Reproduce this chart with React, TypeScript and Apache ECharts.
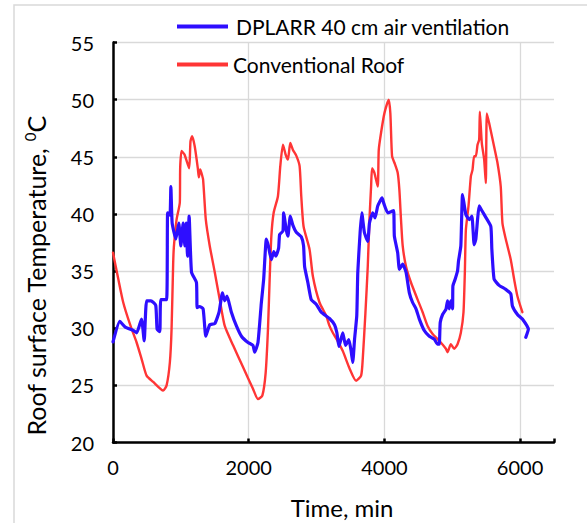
import React, { useEffect, useRef } from "react";
import * as echarts from "echarts";

const seriesNames = ["DPLARR 40 cm air ventilation", "Conventional Roof"];
const xTicks = [0, 2000, 4000, 6000];

const blueTime = [0, 100, 180, 300, 350, 420, 460, 495, 560, 630, 650, 690, 705, 790, 805, 840, 853, 872, 926, 970, 1000, 1034, 1060, 1080, 1098, 1122, 1157, 1230, 1240, 1275, 1328, 1368, 1426, 1500, 1563, 1613, 1647, 1681, 1745, 1819, 1893, 1990, 2063, 2088, 2137, 2186, 2221, 2260, 2290, 2334, 2370, 2400, 2441, 2456, 2505, 2515, 2554, 2578, 2613, 2652, 2701, 2775, 2809, 2824, 2872, 2922, 2995, 3069, 3191, 3265, 3300, 3330, 3387, 3427, 3476, 3510, 3534, 3560, 3593, 3608, 3642, 3667, 3706, 3755, 3780, 3828, 3863, 3902, 3966, 3990, 4049, 4098, 4137, 4147, 4196, 4221, 4270, 4319, 4368, 4416, 4466, 4515, 4588, 4662, 4735, 4784, 4809, 4823, 4858, 4907, 4931, 4956, 4980, 5005, 5010, 5044, 5078, 5093, 5127, 5152, 5201, 5250, 5290, 5323, 5348, 5373, 5397, 5436, 5495, 5569, 5584, 5617, 5691, 5789, 5863, 5887, 5961, 6034, 6122, 6084];
const blueTemp = [28.8, 30.6, 30.1, 29.8, 29.6, 30.8, 28.9, 32.4, 32.4, 32.0, 29.9, 29.7, 32.5, 32.5, 40.1, 39.9, 42.4, 39.2, 37.8, 39.2, 37.2, 39.2, 37.2, 39.2, 36.3, 39.8, 34.9, 34.0, 31.8, 31.9, 31.7, 29.3, 30.3, 30.4, 31.4, 33.1, 32.4, 32.8, 31.4, 30.2, 29.3, 28.75, 28.5, 27.9, 28.75, 32.2, 34.3, 37.8, 37.2, 36.0, 36.7, 36.3, 37.0, 38.2, 38.5, 40.1, 38.6, 38.05, 39.8, 39.0, 38.4, 38.0, 37.2, 35.4, 34.0, 32.5, 32.1, 31.4, 30.85, 30.3, 29.6, 28.4, 29.6, 28.5, 29.0, 28.0, 27.0, 29.0, 31.1, 34.9, 38.35, 40.1, 38.35, 37.6, 39.2, 40.1, 39.65, 40.7, 41.4, 40.95, 40.1, 40.2, 40.3, 38.05, 36.6, 35.15, 35.6, 34.9, 33.1, 32.25, 31.7, 30.8, 29.8, 29.3, 29.05, 28.6, 28.6, 30.5, 31.2, 31.65, 32.4, 31.7, 32.4, 31.7, 33.7, 34.3, 35.0, 35.9, 37.2, 41.7, 39.95, 39.5, 39.8, 37.3, 37.8, 39.5, 40.7, 40.3, 39.7, 38.9, 36.9, 34.3, 33.75, 33.4, 33.0, 31.95, 31.2, 30.8, 29.9, 29.2];

const redTime = [0, 78, 151, 250, 348, 422, 495, 593, 740, 790, 838, 863, 887, 897, 937, 985, 990, 1010, 1054, 1122, 1142, 1166, 1205, 1250, 1265, 1285, 1303, 1328, 1368, 1426, 1500, 1573, 1647, 1770, 1916, 2063, 2137, 2201, 2250, 2284, 2309, 2334, 2368, 2431, 2466, 2505, 2544, 2578, 2613, 2652, 2701, 2750, 2775, 2809, 2897, 2946, 3044, 3142, 3191, 3240, 3300, 3387, 3485, 3583, 3657, 3681, 3721, 3755, 3780, 3804, 3819, 3853, 3902, 3917, 3951, 4000, 4064, 4088, 4113, 4147, 4196, 4221, 4245, 4270, 4319, 4392, 4490, 4564, 4637, 4711, 4809, 4907, 4931, 4980, 5029, 5078, 5127, 5166, 5186, 5201, 5240, 5275, 5299, 5323, 5348, 5373, 5397, 5407, 5436, 5470, 5495, 5510, 5544, 5617, 5666, 5715, 5740, 5789, 5863, 5912, 5961, 6034];
const redTemp = [36.6, 34.3, 32.25, 30.35, 28.75, 27.3, 25.85, 25.3, 24.55, 25.0, 27.0, 29.9, 35.7, 37.1, 39.5, 41.0, 44.0, 45.5, 45.2, 44.0, 46.35, 46.8, 45.9, 44.0, 43.2, 43.9, 43.6, 43.0, 39.5, 37.2, 34.9, 32.5, 30.2, 28.5, 26.6, 24.7, 23.8, 24.1, 26.1, 29.9, 34.3, 38.05, 40.1, 41.55, 44.2, 46.05, 45.2, 44.75, 46.2, 45.6, 45.1, 44.2, 41.55, 38.9, 36.9, 34.55, 32.25, 31.1, 30.2, 29.6, 29.0, 28.0, 26.5, 25.4, 25.85, 27.3, 31.4, 35.4, 39.5, 42.4, 44.0, 43.6, 42.4, 45.6, 47.1, 48.8, 50.0, 48.8, 45.05, 44.5, 43.6, 42.1, 39.5, 37.2, 35.4, 34.0, 32.5, 31.4, 30.2, 29.5, 28.9, 28.2, 27.9, 28.6, 28.2, 28.6, 29.6, 31.4, 34.9, 38.6, 40.7, 43.3, 43.85, 45.05, 45.05, 46.05, 46.5, 48.95, 46.2, 44.8, 42.7, 48.8, 47.95, 45.9, 44.5, 42.4, 39.2, 37.8, 36.0, 34.3, 32.8, 31.4];

const BLUE = "#2E0EFF";
const RED = "#FF3535";
const FONT = "Lato";

export default function App() {
  const ref = useRef<HTMLDivElement>(null);
  useEffect(() => {
    document.body.style.margin = "0";
    const chart = echarts.init(ref.current!, undefined, { renderer: "svg" });
    const blueData = blueTime.map((t, i) => [t, blueTemp[i]]);
    const redData = redTime.map((t, i) => [t, redTemp[i]]);
    chart.setOption({
      animation: false,
      backgroundColor: "#ffffff",
      grid: { left: 113, top: 42.5, width: 441, height: 400, containLabel: false },
      legend: {
        orient: "vertical",
        left: 177,
        top: 16,
        padding: 0,
        itemGap: 17,
        itemWidth: 51,
        itemHeight: 4,
        textStyle: { fontFamily: FONT, fontSize: 21, color: "#000", lineHeight: 20 },
        data: [
          { name: seriesNames[0], icon: "rect", itemStyle: { color: BLUE }, textStyle: { padding: [0, 0, 0, 3] } },
          { name: seriesNames[1], icon: "rect", itemStyle: { color: RED }, textStyle: { padding: [0, 0, 0, 0] } },
        ],
      },
      xAxis: {
        type: "value",
        min: 0,
        max: 6500,
        interval: 2000,
        axisLine: { show: true, onZero: false, lineStyle: { color: "#000", width: 2.5 } },
        axisTick: { show: true, inside: true, length: 4, lineStyle: { color: "#000", width: 2.5 } },
        axisLabel: {
          margin: 14,
          fontFamily: FONT,
          fontSize: 20,
          color: "#000",
          formatter: (v: number) => (xTicks.includes(v) ? String(v) : ""),
        },
        splitLine: { show: false },
      },
      yAxis: {
        type: "value",
        min: 20,
        max: 55,
        interval: 5,
        axisLine: { show: true, lineStyle: { color: "#000", width: 2.5 } },
        axisTick: { show: true, inside: true, length: 4, lineStyle: { color: "#000", width: 2.5 } },
        axisLabel: { margin: 19, fontFamily: FONT, fontSize: 20, color: "#000" },
        splitLine: { show: true, lineStyle: { color: "#d9d9d9", width: 1.3 } },
      },
      graphic: [
        {
          type: "rect",
          z: -10,
          shape: { x: 14, y: 5, width: 800, height: 800 },
          style: { fill: "none", stroke: "#d9d9d9", lineWidth: 1.5 },
          silent: true,
        },
        {
          type: "text",
          x: 342,
          y: 507,
          style: { text: "Time, min", fontFamily: FONT, fontSize: 24, fill: "#000", align: "center", verticalAlign: "middle" },
        },
        {
          type: "text",
          x: 36,
          y: 276,
          rotation: Math.PI / 2,
          style: {
            text: "{a|Roof surface Temperature, }{s|0}{a|C}",
            fontFamily: FONT,
            fill: "#000",
            align: "center",
            verticalAlign: "middle",
            rich: {
              a: { fontFamily: FONT, fontSize: 25, lineHeight: 28, fill: "#000" },
              s: { fontFamily: FONT, fontSize: 15, lineHeight: 17, verticalAlign: "top", fill: "#000" },
            },
          },
        },
      ],
      series: [
        {
          name: seriesNames[0],
          type: "line",
          data: blueData,
          showSymbol: false,
          symbol: "none",
          smooth: 0.15,
          color: BLUE,
          lineStyle: { color: BLUE, width: 3.2, cap: "round", join: "round" },
          z: 3,
          markLine: {
            silent: true,
            symbol: "none",
            label: { show: false },
            lineStyle: { color: "#d9d9d9", width: 1.3, type: "solid" },
            data: [{ xAxis: 2000 }, { xAxis: 4000 }, { xAxis: 6000 }],
            z: 0,
          },
        },
        {
          name: seriesNames[1],
          type: "line",
          data: redData,
          showSymbol: false,
          symbol: "none",
          smooth: 0.2,
          color: RED,
          lineStyle: { color: RED, width: 2.4, cap: "round", join: "round" },
          z: 2,
        },
      ],
    });
    return () => chart.dispose();
  }, []);
  return <div ref={ref} style={{ width: 587, height: 523 }} />;
}
